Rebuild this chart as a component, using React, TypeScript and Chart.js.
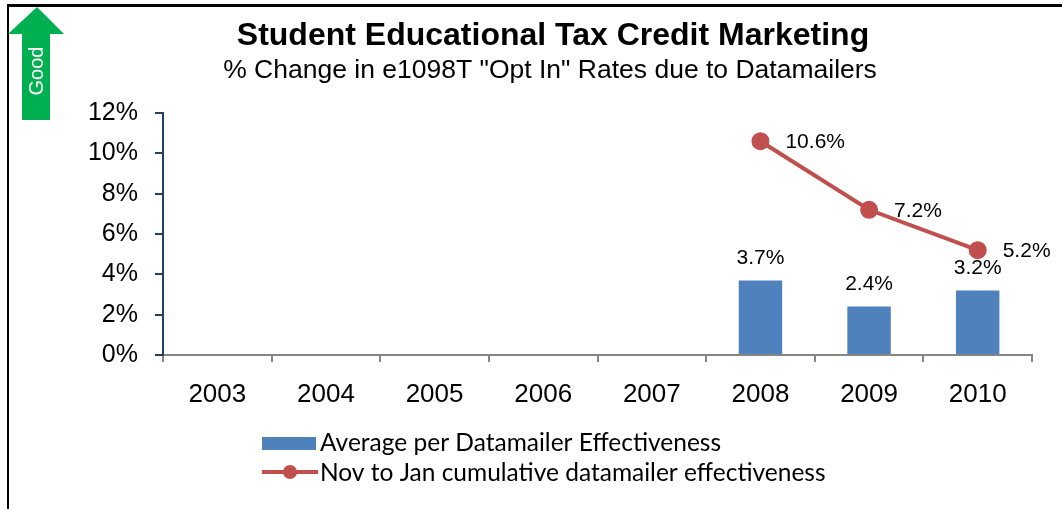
import React, { useEffect, useRef } from "react";
import { Chart, registerables } from "chart.js";
Chart.register(...registerables);

const categories = ["2003", "2004", "2005", "2006", "2007", "2008", "2009", "2010"];
const barValues: (number | null)[] = [null, null, null, null, null, 3.7, 2.4, 3.2];
const lineValues: (number | null)[] = [null, null, null, null, null, 10.6, 7.2, 5.2];
const yTickValues = [0, 2, 4, 6, 8, 10, 12];
const barLabel = "Average per Datamailer Effectiveness";
const lineLabel = "Nov to Jan cumulative datamailer effectiveness";
const titleText = "Student Educational Tax Credit Marketing";
const subtitleText = '% Change in e1098T "Opt In" Rates due to Datamailers';
const badgeText = "Good";

const ARIAL = "'Liberation Sans', Arial, sans-serif";
const LEGEND_FONT = "Lato, 'Open Sans', sans-serif";
const BLUE = "#4F81BD";
const RED = "#C0504D";

const decorPlugin = {
  id: "decor",
  afterDatasetsDraw(chart: any) {
    const ctx = chart.ctx;
    ctx.save();
    ctx.fillStyle = "#000";
    ctx.font = `21px ${ARIAL}`;
    const barMeta = chart.getDatasetMeta(1);
    barMeta.data.forEach((el: any, i: number) => {
      const v = barValues[i];
      if (v == null) return;
      ctx.textAlign = "center";
      ctx.textBaseline = "middle";
      ctx.fillText(`${v.toFixed(1)}%`, el.x, el.y - 22);
    });
    const lineMeta = chart.getDatasetMeta(0);
    lineMeta.data.forEach((el: any, i: number) => {
      const v = lineValues[i];
      if (v == null) return;
      ctx.textAlign = "left";
      ctx.textBaseline = "middle";
      ctx.fillText(`${v.toFixed(1)}%`, el.x + 25, el.y + 1);
    });
    ctx.restore();
  },
  afterDraw(chart: any) {
    const ctx = chart.ctx;
    ctx.save();
    // frame
    ctx.fillStyle = "#000";
    ctx.fillRect(7, 4, 1055, 3);
    ctx.fillRect(7, 4, 2, 505);
    // title
    ctx.textAlign = "center";
    ctx.textBaseline = "middle";
    ctx.font = `bold 32px ${ARIAL}`;
    ctx.fillText(titleText, 553, 36);
    ctx.font = `26.5px ${ARIAL}`;
    ctx.fillText(subtitleText, 550, 71);
    // Good arrow
    ctx.fillStyle = "#00B050";
    ctx.beginPath();
    ctx.moveTo(37, 7);
    ctx.lineTo(64, 34);
    ctx.lineTo(50, 34);
    ctx.lineTo(50, 120);
    ctx.lineTo(22, 120);
    ctx.lineTo(22, 34);
    ctx.lineTo(8, 34);
    ctx.closePath();
    ctx.fill();
    ctx.save();
    ctx.translate(37, 71);
    ctx.rotate(-Math.PI / 2);
    ctx.fillStyle = "#fff";
    ctx.font = `20px ${ARIAL}`;
    ctx.textAlign = "center";
    ctx.textBaseline = "middle";
    ctx.fillText(badgeText, 0, 0);
    ctx.restore();
    // legend
    ctx.fillStyle = BLUE;
    ctx.fillRect(262, 437, 54, 13);
    ctx.strokeStyle = RED;
    ctx.lineWidth = 4;
    ctx.beginPath();
    ctx.moveTo(262, 472);
    ctx.lineTo(318, 472);
    ctx.stroke();
    ctx.fillStyle = RED;
    ctx.beginPath();
    ctx.arc(290, 472, 7, 0, Math.PI * 2);
    ctx.fill();
    ctx.fillStyle = "#000";
    ctx.font = `24.5px ${LEGEND_FONT}`;
    ctx.textAlign = "left";
    ctx.textBaseline = "middle";
    ctx.fillText(barLabel, 320, 443);
    ctx.fillText(lineLabel, 320, 473);
    ctx.restore();
  },
};

export default function App() {
  const ref = useRef<HTMLCanvasElement>(null);
  useEffect(() => {
    document.body.style.margin = "0";
    const chart = new Chart(ref.current!, {
      type: "bar",
      data: {
        labels: categories,
        datasets: [
          {
            type: "line",
            label: lineLabel,
            data: lineValues,
            borderColor: RED,
            backgroundColor: RED,
            pointBackgroundColor: RED,
            pointBorderColor: RED,
            borderWidth: 4,
            pointRadius: 7,
            order: 0,
          } as any,
          {
            type: "bar",
            label: barLabel,
            data: barValues,
            backgroundColor: BLUE,
            barPercentage: 0.4,
            categoryPercentage: 1,
            order: 1,
          } as any,
        ],
      },
      options: {
        responsive: false,
        animation: false,
        layout: { padding: { top: 113, right: 30, left: 0, bottom: 0 } },
        plugins: {
          legend: { display: false },
          tooltip: { enabled: false },
          title: { display: false },
        },
        scales: {
          x: {
            grid: {
              offset: true,
              drawOnChartArea: false,
              drawTicks: true,
              tickLength: 7,
              color: "#868686",
              lineWidth: 2,
            },
            border: { color: "#868686", width: 2 },
            ticks: {
              font: { family: ARIAL, size: 26 },
              color: "#000",
              padding: 17,
              maxRotation: 0,
            },
            afterFit: (s: any) => {
              s.height = 154;
            },
          } as any,
          y: {
            min: 0,
            max: 12,
            afterBuildTicks: (s: any) => {
              s.ticks = yTickValues.map((v) => ({ value: v }));
            },
            ticks: {
              callback: (v: any) => `${v}%`,
              font: { family: ARIAL, size: 25 },
              color: "#000",
              padding: 17,
            },
            grid: {
              drawOnChartArea: false,
              tickLength: 8,
              color: "#243F60",
              lineWidth: 2,
            },
            border: { color: "#243F60", width: 2 },
            afterFit: (s: any) => {
              s.width = 163;
            },
          } as any,
        },
      },
      plugins: [decorPlugin],
    });
    return () => chart.destroy();
  }, []);
  return <canvas ref={ref} width={1062} height={509} style={{ display: "block" }} />;
}
